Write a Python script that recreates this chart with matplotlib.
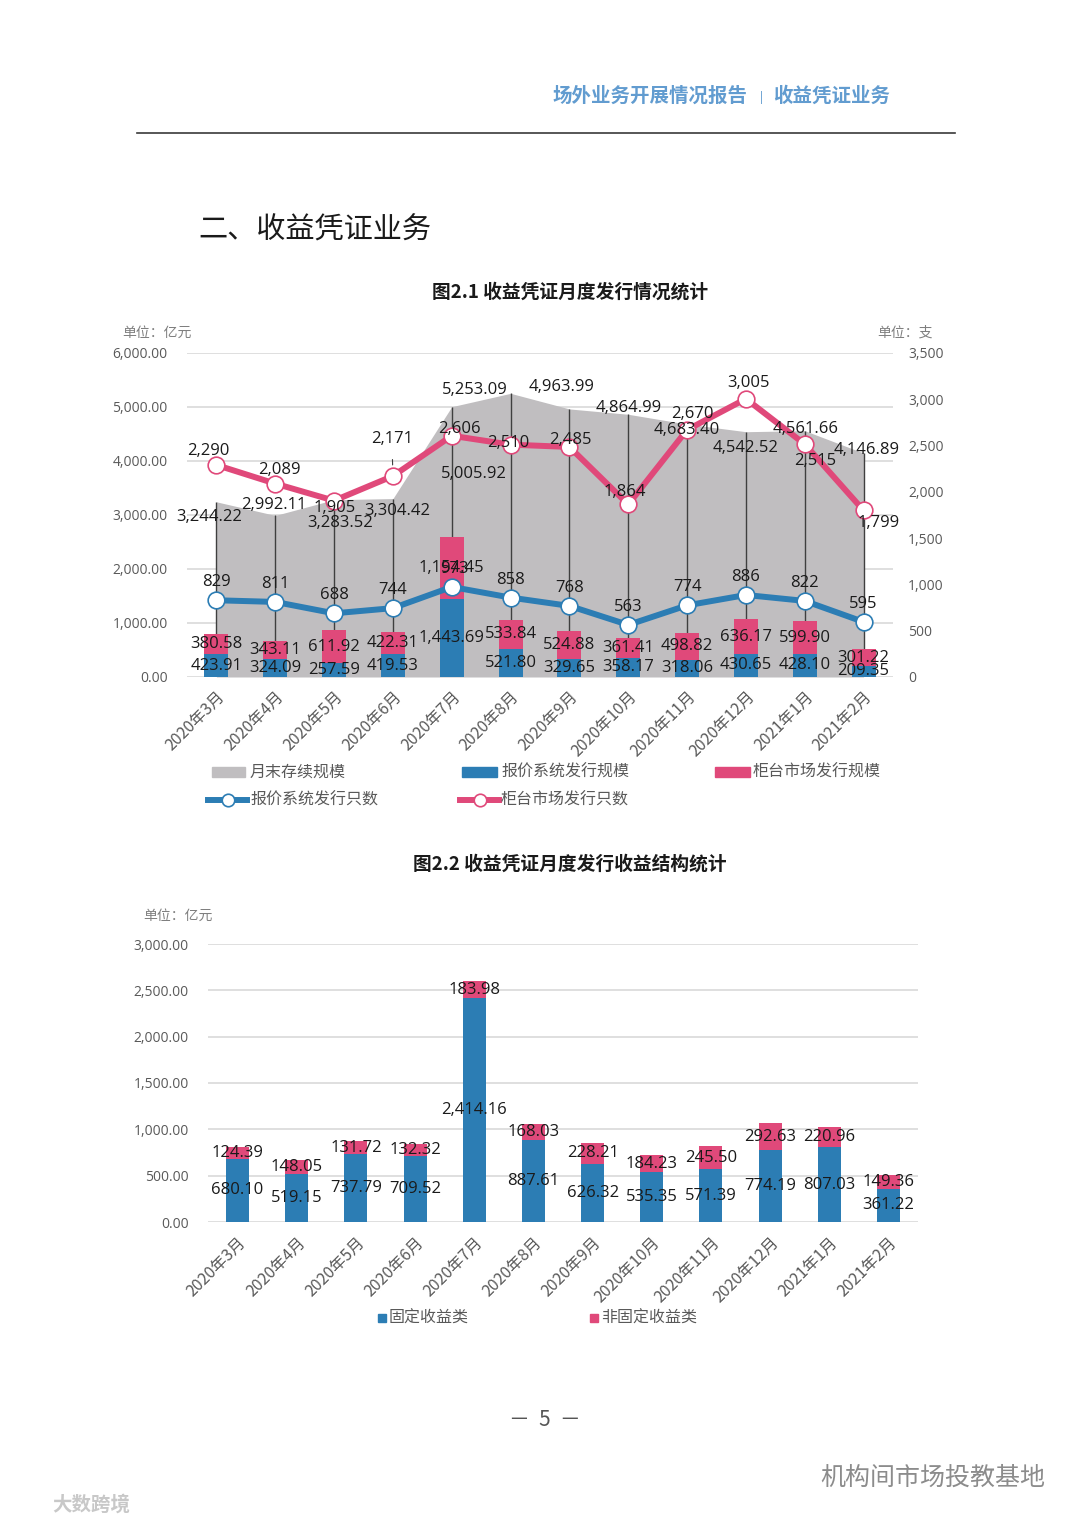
import matplotlib
matplotlib.use('Agg')
import matplotlib.pyplot as plt
from matplotlib.lines import Line2D
from matplotlib.patches import Rectangle
import numpy as np

# ---- data ----
months = ['2020年3月', '2020年4月', '2020年5月', '2020年6月', '2020年7月', '2020年8月',
          '2020年9月', '2020年10月', '2020年11月', '2020年12月', '2021年1月', '2021年2月']
balance = [3244.22, 2992.11, 3283.52, 3304.42, 5005.92, 5253.09,
           4963.99, 4864.99, 4683.40, 4542.52, 4561.66, 4146.89]
quote_amount = [423.91, 324.09, 257.59, 419.53, 1443.69, 521.80,
                329.65, 358.17, 318.06, 430.65, 428.10, 209.35]
otc_amount = [380.58, 343.11, 611.92, 422.31, 1154.45, 533.84,
              524.88, 361.41, 498.82, 636.17, 599.90, 301.22]
quote_count = [829, 811, 688, 744, 973, 858, 768, 563, 774, 886, 822, 595]
otc_count = [2290, 2089, 1905, 2171, 2606, 2510, 2485, 1864, 2670, 3005, 2515, 1799]
fixed_income = [680.10, 519.15, 737.79, 709.52, 2414.16, 887.61,
                626.32, 535.35, 571.39, 774.19, 807.03, 361.22]
non_fixed_income = [124.39, 148.05, 131.72, 132.32, 183.98, 168.03,
                    228.21, 184.23, 245.50, 292.63, 220.96, 149.36]

# label nudges in pixels (dx, dy)
balance_offsets = [(-7, -15), (-1, 10), (6, -23), (4, -12), (22, -67), (-36, 3),
                   (-8, 22), (0, 6), (0, -6), (0, -16), (1, 2), (3, 3)]
otc_count_offsets = [(-8, 14), (4, 14), (1, -7), (-1, 37), (8, 7), (-2, 2),
                     (1, 7), (-3, 12), (5, 16), (3, 16), (10, -17), (15, -13)]

BLUE = '#2C7DB4'
PINK = '#E0497A'
GRAY = '#C0BEC0'
GRID = '#D9D9D9'
TICK = '#595959'
NUM_FONT = ['Open Sans', 'Noto Sans CJK SC']
CJK = ['Noto Sans CJK SC', 'DejaVu Sans']

plt.rcParams['font.family'] = NUM_FONT

W, H = 1080, 1527
fig = plt.figure(figsize=(W / 100, H / 100), dpi=100)
fig.patch.set_facecolor('white')


def fx(x):
    return x / W


def fy(y):
    return 1 - y / H


def px_axes(l, t, r, b):
    return fig.add_axes([l / W, 1 - b / H, (r - l) / W, (b - t) / H])


# ---- page decoration ----
fig.text(fx(748), fy(96), '场外业务开展情况报告', ha='right', va='center', fontsize=14,
         fontweight='bold', color='#629CD0', family=CJK)
fig.text(fx(761), fy(98), '|', ha='center', va='center', fontsize=9, color='#629CD0')
fig.text(fx(773), fy(96), '收益凭证业务', ha='left', va='center', fontsize=14,
         fontweight='bold', color='#629CD0', family=CJK)
fig.add_artist(Line2D([fx(137), fx(955)], [fy(133), fy(133)], color='#3a3a3a', lw=1.2))
fig.text(fx(198), fy(231), '二、收益凭证业务', ha='left', va='center', fontsize=21,
         color='#1a1a1a', family=CJK)
fig.text(fx(570), fy(292), '图2.1 收益凭证月度发行情况统计', ha='center', va='center',
         fontsize=13.5, fontweight='bold', color='#1a1a1a', family=CJK)
fig.text(fx(570), fy(864), '图2.2 收益凭证月度发行收益结构统计', ha='center', va='center',
         fontsize=13.5, fontweight='bold', color='#1a1a1a', family=CJK)
fig.text(fx(122), fy(333), '单位：亿元', ha='left', va='center', fontsize=10,
         color='#7F7F7F', family=CJK)
fig.text(fx(877), fy(333), '单位：支', ha='left', va='center', fontsize=10,
         color='#7F7F7F', family=CJK)
fig.text(fx(143), fy(916), '单位：亿元', ha='left', va='center', fontsize=10,
         color='#7F7F7F', family=CJK)
fig.text(fx(545), fy(1420), '－  5  －', ha='center', va='center', fontsize=15,
         color='#555555', family=CJK)
fig.text(fx(1045), fy(1478), '机构间市场投教基地', ha='right', va='center', fontsize=18,
         color='#8C8C8C', family=CJK)
fig.text(fx(52), fy(1505), '大数跨境', ha='left', va='center', fontsize=14,
         color='#C8C8C8', fontweight='bold', family=CJK)

x = np.arange(len(months))

# ---- chart 2.1 ----
ax1 = px_axes(187, 353, 893, 677)
ax1.set_xlim(-0.5, 11.5)
ax1.set_ylim(0, 6000)
ax1.set_yticks(np.arange(0, 6001, 1000))
ax1.set_yticklabels([f'{v:,.2f}' for v in np.arange(0, 6001, 1000)])
ax1.grid(axis='y', color=GRID, lw=1.2)
ax1.set_axisbelow(True)
for s in ax1.spines.values():
    s.set_visible(False)
ax1.tick_params(axis='y', length=0, pad=14, labelsize=10, labelcolor=TICK)
ax1.tick_params(axis='x', length=0, pad=8, labelsize=11.5, labelcolor=TICK)

ax1.fill_between(x, balance, 0, color=GRAY, lw=0, zorder=1)
ax1.vlines(x, 0, balance, color='#3F3F3F', lw=1, zorder=2)
ax1.bar(x, quote_amount, width=0.41, color=BLUE, zorder=3)
ax1.bar(x, otc_amount, width=0.41, bottom=quote_amount, color=PINK, zorder=3)

ax1.set_xticks(x)
ax1.set_xticklabels(months, rotation=45, ha='right', rotation_mode='anchor', family=CJK)

ax2 = ax1.twinx()
ax2.set_ylim(0, 3500)
ax2.set_yticks(np.arange(0, 3501, 500))
ax2.set_yticklabels([f'{v:,.0f}' for v in np.arange(0, 3501, 500)])
for s in ax2.spines.values():
    s.set_visible(False)
ax2.tick_params(axis='y', length=0, pad=11, labelsize=10, labelcolor=TICK)
ax2.plot(x, quote_count, color=BLUE, lw=4.3, marker='o', ms=12, mfc='white',
         mec=BLUE, mew=1.2, zorder=5)
ax2.plot(x, otc_count, color=PINK, lw=4.3, marker='o', ms=12, mfc='white',
         mec=PINK, mew=1.2, zorder=5)

lab = dict(ha='center', va='center', fontsize=12, color='#1A1A1A',
           textcoords='offset pixels', zorder=8)
for i in range(len(months)):
    ax2.annotate(f'{quote_count[i]:,}', (x[i], quote_count[i]),
                 xytext=(3 if i == 4 else 0, 18), **lab)
    dx, dy = otc_count_offsets[i]
    if i == 3:
        ax2.annotate(f'{otc_count[i]:,}', (x[i], otc_count[i]), xytext=(dx, dy),
                     arrowprops=dict(arrowstyle='-', color='#404040', lw=0.8,
                                     shrinkA=7, shrinkB=8), **lab)
    else:
        ax2.annotate(f'{otc_count[i]:,}', (x[i], otc_count[i]), xytext=(dx, dy), **lab)
    dx, dy = balance_offsets[i]
    ax2.annotate(f'{balance[i]:,.2f}', (x[i], balance[i] * 3500 / 6000),
                 xytext=(dx, dy), **lab)
    ax2.annotate(f'{quote_amount[i]:,.2f}', (x[i], quote_amount[i] / 2 * 3500 / 6000),
                 xytext=(0, 0), **lab)
    ax2.annotate(f'{otc_amount[i]:,.2f}',
                 (x[i], (quote_amount[i] + otc_amount[i] / 2) * 3500 / 6000),
                 xytext=(0, 0), **lab)

# legend 2.1 (drawn in page pixels)
leg_font = dict(ha='left', va='center', fontsize=11.5, color=TICK, family=CJK)
for (x0, x1, tx, col, name) in [(212, 245, 250, GRAY, '月末存续规模'),
                                 (462, 497, 501, BLUE, '报价系统发行规模'),
                                 (715, 750, 753, PINK, '柜台市场发行规模')]:
    fig.add_artist(Rectangle((fx(x0), fy(777)), fx(x1 - x0), 10 / H, color=col,
                             transform=fig.transFigure))
    fig.text(fx(tx), fy(772), name, **leg_font)
for (x0, x1, tx, col, name) in [(208, 247, 250, BLUE, '报价系统发行只数'),
                                 (460, 499, 501, PINK, '柜台市场发行只数')]:
    fig.add_artist(Line2D([fx(x0), fx(x1)], [fy(800), fy(800)], color=col, lw=4.3,
                          transform=fig.transFigure))
    fig.add_artist(Line2D([fx((x0 + x1) / 2)], [fy(800)], marker='o', ms=9, mfc='white',
                          mec=col, mew=1.2, transform=fig.transFigure))
    fig.text(fx(tx), fy(800), name, **leg_font)

# ---- chart 2.2 ----
ax3 = px_axes(208, 944, 918, 1222)
ax3.set_xlim(-0.5, 11.5)
ax3.set_ylim(0, 3000)
ax3.set_yticks(np.arange(0, 3001, 500))
ax3.set_yticklabels([f'{v:,.2f}' for v in np.arange(0, 3001, 500)])
ax3.grid(axis='y', color=GRID, lw=1.2)
ax3.set_axisbelow(True)
for s in ax3.spines.values():
    s.set_visible(False)
ax3.tick_params(axis='y', length=0, pad=14, labelsize=10, labelcolor=TICK)
ax3.tick_params(axis='x', length=0, pad=9, labelsize=11.5, labelcolor=TICK)
ax3.bar(x, fixed_income, width=0.39, color=BLUE, zorder=3)
ax3.bar(x, non_fixed_income, width=0.39, bottom=fixed_income, color=PINK, zorder=3)
ax3.set_xticks(x)
ax3.set_xticklabels(months, rotation=45, ha='right', rotation_mode='anchor', family=CJK)
for i in range(len(months)):
    ax3.annotate(f'{fixed_income[i]:,.2f}', (x[i], fixed_income[i] / 2), xytext=(0, 0), **lab)
    ax3.annotate(f'{non_fixed_income[i]:,.2f}',
                 (x[i], fixed_income[i] + non_fixed_income[i] / 2), xytext=(0, 0), **lab)

for (x0, tx, col, name) in [(378, 389, BLUE, '固定收益类'), (590, 601, PINK, '非固定收益类')]:
    fig.add_artist(Rectangle((fx(x0), fy(1322)), fx(8), 8 / H, color=col,
                             transform=fig.transFigure))
    fig.text(fx(tx), fy(1318), name, **leg_font)

fig.savefig('out.png', dpi=100, facecolor='white')
